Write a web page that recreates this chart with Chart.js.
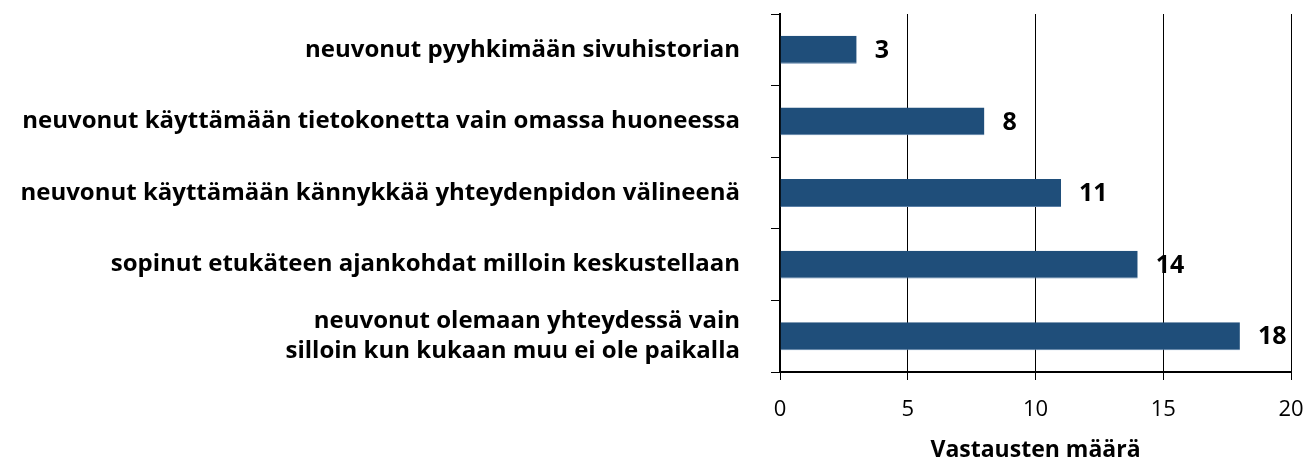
<!DOCTYPE html>
<html>
<head>
<meta charset="utf-8">
<script src="https://cdn.jsdelivr.net/npm/chart.js@4"></script>
<style>
  body { margin: 0; background: #fff; }
  #wrap { width: 1316px; height: 467px; }
</style>
</head>
<body>
<div id="wrap"><canvas id="myChart" width="1316" height="467"></canvas></div>
<script>
labels = [
  "neuvonut pyyhkimään sivuhistorian",
  "neuvonut käyttämään tietokonetta vain omassa huoneessa",
  "neuvonut käyttämään kännykkää yhteydenpidon välineenä",
  "sopinut etukäteen ajankohdat milloin keskustellaan",
  ["neuvonut olemaan yhteydessä vain", "silloin kun kukaan muu ei ole paikalla"]
];
values = [3, 8, 11, 14, 18];
xTicks = [0, 5, 10, 15, 20];
xTitle = "Vastausten määrä";

const FONT = "'Open Sans'";

const valueLabels = {
  id: "valueLabels",
  afterDatasetsDraw(chart) {
    const ctx = chart.ctx;
    const meta = chart.getDatasetMeta(0);
    ctx.save();
    ctx.font = "bold 25px " + FONT;
    ctx.fillStyle = "#000";
    ctx.textAlign = "left";
    ctx.textBaseline = "middle";
    meta.data.forEach((bar, i) => {
      ctx.fillText(String(values[i]), bar.x + 18, bar.y + 1);
    });
    ctx.restore();
  }
};

function displayData() {
  const ctx = document.getElementById('myChart');

  new Chart(ctx, {
    type: 'bar',
    data: {
      labels: labels,
      datasets: [{
        data: values,
        backgroundColor: "#1f4e7a",
        borderColor: "#5a7fa6",
        borderWidth: { bottom: 1, top: 0, left: 0, right: 0 },
        borderSkipped: false,
        categoryPercentage: 1,
        barPercentage: 0.39
      }]
    },
    options: {
      indexAxis: 'y',
      responsive: false,
      animation: false,
      layout: { padding: { top: 14, right: 25, left: 0, bottom: 0 } },
      plugins: {
        legend: { display: false },
        tooltip: { enabled: false }
      },
      scales: {
        x: {
          min: 0,
          max: 20,
          afterBuildTicks: (scale) => { scale.ticks = xTicks.map(v => ({ value: v })); },
          afterFit: (scale) => {
            scale.height = 95;
            scale.paddingLeft = 0;
            scale.paddingRight = 0;
          },
          grid: { color: "#000", lineWidth: 1, tickLength: 8, drawOnChartArea: true },
          border: { color: "#000", width: 2 },
          ticks: { color: "#000", font: { family: FONT, size: 22 }, padding: 17 },
          title: {
            display: true,
            text: xTitle,
            color: "#000",
            font: { family: FONT, size: 23, weight: "bold" },
            padding: { top: 0, bottom: 3 }
          }
        },
        y: {
          afterFit: (scale) => {
            scale.width = 780;
            scale.paddingTop = 0;
            scale.paddingBottom = 0;
          },
          grid: { display: true, drawOnChartArea: false, offset: true, color: "#000", tickLength: 9 },
          border: { color: "#000", width: 2 },
          ticks: {
            color: "#000",
            padding: 31,
            font: { family: FONT, size: 24, weight: "bold", lineHeight: 1.25 }
          }
        }
      }
    },
    plugins: [valueLabels]
  });
}

displayData();
</script>
</body>
</html>
